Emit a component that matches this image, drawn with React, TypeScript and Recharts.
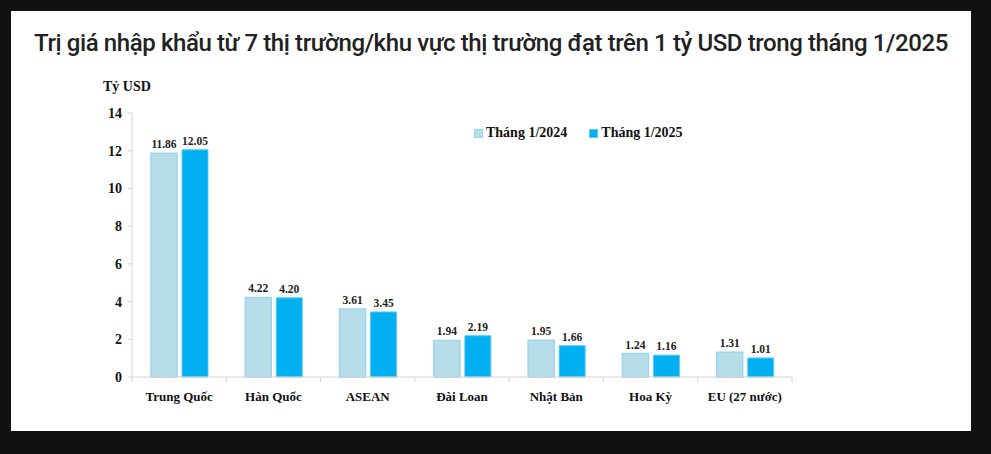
import { Bar, BarChart, LabelList, XAxis, YAxis } from 'recharts'

const markets = ['Trung Quốc', 'Hàn Quốc', 'ASEAN', 'Đài Loan', 'Nhật Bản', 'Hoa Kỳ', 'EU (27 nước)']
const thang2024 = [11.86, 4.22, 3.61, 1.94, 1.95, 1.24, 1.31]
const thang2025 = [12.05, 4.2, 3.45, 2.19, 1.66, 1.16, 1.01]
const yTicks = [0, 2, 4, 6, 8, 10, 12, 14]

const series = [
  { key: 'y2024', name: 'Tháng 1/2024', fill: '#b7dde8', stroke: '#9ed3f2' },
  { key: 'y2025', name: 'Tháng 1/2025', fill: '#00b0f0', stroke: '#5cc9f5' },
]

const data = markets.map((m, i) => ({ name: m, y2024: thang2024[i], y2025: thang2025[i] }))

const serif = '"Liberation Serif", "Times New Roman", serif'
const axisColor = '#d4d4d4'
const plotWidth = 660

const CategoryTick = (props: any) => {
  const { x, y, payload, index } = props
  const band = plotWidth / markets.length
  return (
    <g>
      <line x1={x - band / 2} y1={y - 8} x2={x - band / 2} y2={y - 3} stroke={axisColor} />
      {index === markets.length - 1 && (
        <line x1={x + band / 2} y1={y - 8} x2={x + band / 2} y2={y - 3} stroke={axisColor} />
      )}
      <text x={x} y={y + 16} textAnchor="middle" fontFamily={serif} fontWeight="bold" fontSize={13} fill="#111">
        {payload.value}
      </text>
    </g>
  )
}

const labelStyle = { fontFamily: serif, fontWeight: 'bold', fontSize: 11.5, fill: '#222' }

const App = () => {
  return (
    <div style={{ position: 'absolute', left: 0, top: 0, width: 991, height: 454, background: '#111111' }}>
      <div style={{ position: 'absolute', left: 11, top: 11, width: 960, height: 420, background: '#ffffff' }}>
        <div style={{
          position: 'absolute', left: 0, top: 18, width: 960, textAlign: 'center', whiteSpace: 'nowrap',
          fontFamily: 'Roboto, "Noto Sans", sans-serif', fontSize: 24, fontWeight: 500, color: '#222', letterSpacing: -0.4,
        }}>
          Trị giá nhập khẩu từ 7 thị trường/khu vực thị trường đạt trên 1 tỷ USD trong tháng 1/2025
        </div>
        <div style={{
          position: 'absolute', left: 92, top: 68, fontFamily: serif, fontWeight: 'bold', fontSize: 14, color: '#111',
        }}>
          Tỷ USD
        </div>
        <div style={{
          position: 'absolute', left: 463, top: 114, display: 'flex', gap: 22, zIndex: 1,
          fontFamily: serif, fontWeight: 'bold', fontSize: 14, color: '#111',
        }}>
          {series.map((s) => (
            <div key={s.key} style={{ display: 'flex', alignItems: 'center', gap: 3 }}>
              <span style={{ width: 7, height: 7, background: s.fill, border: `1px solid ${s.stroke}` }} />
              <span>{s.name}</span>
            </div>
          ))}
        </div>
        <BarChart
          width={960}
          height={420}
          data={data}
          margin={{ top: 102, right: 179, bottom: 24, left: 0 }}
          barCategoryGap={19}
          barGap={5}
        >
          <XAxis
            dataKey="name"
            height={30}
            stroke={axisColor}
            tickLine={false}
            interval={0}
            tick={<CategoryTick />}
          />
          <YAxis
            width={121}
            domain={[0, 14]}
            ticks={yTicks}
            stroke={axisColor}
            tickSize={4}
            tickMargin={6}
            tick={{ fontFamily: serif, fontWeight: 'bold', fontSize: 14, fill: '#111' }}
          />
          {series.map((s) => (
            <Bar key={s.key} dataKey={s.key} name={s.name} fill={s.fill} stroke={s.stroke}
              strokeWidth={s.key === 'y2024' ? 1.5 : 1} isAnimationActive={false}>
              <LabelList dataKey={s.key} position="top" offset={5}
                formatter={(v: any) => Number(v).toFixed(2)} style={labelStyle} />
            </Bar>
          ))}
        </BarChart>
      </div>
    </div>
  )
}

export default App
